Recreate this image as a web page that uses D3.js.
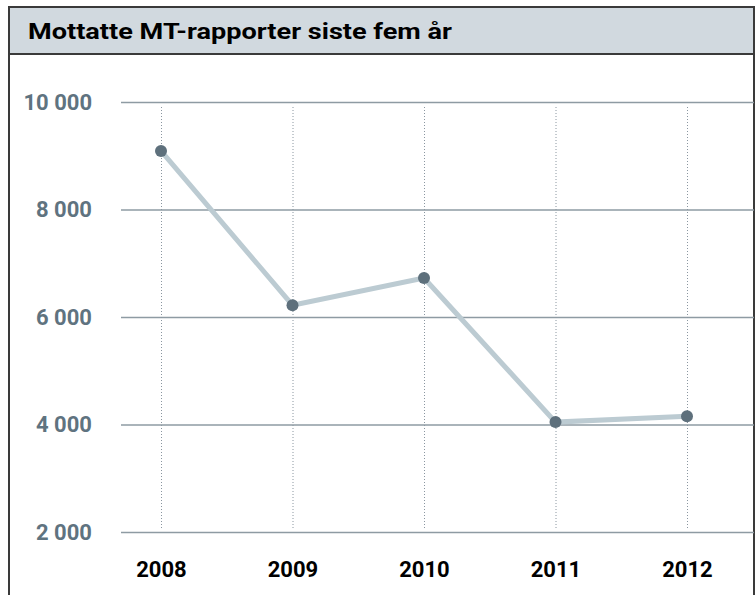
<!DOCTYPE html>
<html>
<head>
<meta charset="utf-8">
<script src="https://cdn.jsdelivr.net/npm/d3@7"></script>
<style>
  body { margin: 0; background: #fff; }
  #chart text { font-family: Roboto, "Open Sans", sans-serif; font-weight: bold; }
</style>
</head>
<body>
<div id="chart"></div>
<script>
const title = "Mottatte MT-rapporter siste fem år";
const years = ["2008", "2009", "2010", "2011", "2012"];
const reports = [9090, 6220, 6725, 4045, 4155];
const yTicks = [2000, 4000, 6000, 8000, 10000];

const width = 756;
const height = 595;

const svg = d3.select("#chart").append("svg")
    .attr("width", width)
    .attr("height", height);

// frame + header
const frameLeft = 9, frameRight = 754, frameTop = 7, headerBottom = 54;

svg.append("rect")
    .attr("x", frameLeft).attr("y", frameTop)
    .attr("width", frameRight - frameLeft)
    .attr("height", headerBottom - frameTop)
    .attr("fill", "#d1d9df");

svg.append("path")
    .attr("d", `M${frameLeft},${height + 5}V${frameTop}H${frameRight}V${height + 5}`)
    .attr("fill", "none")
    .attr("stroke", "#3a3a3a")
    .attr("stroke-width", 2);

svg.append("line")
    .attr("x1", frameLeft).attr("x2", frameRight)
    .attr("y1", headerBottom).attr("y2", headerBottom)
    .attr("stroke", "#3a3a3a")
    .attr("stroke-width", 2);

svg.append("text")
    .attr("x", 28)
    .attr("y", 39)
    .attr("textLength", 424)
    .attr("lengthAdjust", "spacingAndGlyphs")
    .style("font-size", "22px")
    .style("fill", "#000")
    .text(title);

// scales
const x = d3.scalePoint().domain(years).range([161, 687]);
const y = d3.scaleLinear().domain([2000, 10000]).range([532, 102]);

const nb = d3.formatLocale({ decimal: ",", thousands: " ", grouping: [3], currency: ["", ""] });

// y axis with gridlines
const yAxis = d3.axisLeft(y)
    .tickValues(yTicks)
    .tickFormat(nb.format(","))
    .tickSize(-(frameRight - 121))
    .tickPadding(29);

const yG = svg.append("g")
    .attr("transform", "translate(121,0)")
    .call(yAxis);
yG.select(".domain").remove();
yG.selectAll(".tick line")
    .attr("stroke", "#8e9ba3")
    .attr("stroke-width", 1.5);
yG.selectAll(".tick text")
    .style("font-size", "22px")
    .style("fill", "#5f7380");

// x axis with dotted verticals
const xAxis = d3.axisBottom(x)
    .tickSize(-(528 - 105))
    .tickPadding(33);

const xG = svg.append("g")
    .attr("transform", "translate(0,528)")
    .call(xAxis);
xG.select(".domain").remove();
xG.selectAll(".tick line")
    .attr("stroke", "#8a96a0")
    .attr("stroke-width", 1)
    .attr("stroke-dasharray", "1,2");
xG.selectAll(".tick text")
    .style("font-size", "22px")
    .style("fill", "#000");

// line + dots
const line = d3.line()
    .x((d, i) => x(years[i]))
    .y(d => y(d));

svg.append("path")
    .datum(reports)
    .attr("d", line)
    .attr("fill", "none")
    .attr("stroke", "#bccbd2")
    .attr("stroke-width", 5);

svg.selectAll(".dot")
    .data(reports)
    .enter()
    .append("circle")
    .attr("class", "dot")
    .attr("cx", (d, i) => x(years[i]))
    .attr("cy", d => y(d))
    .attr("r", 6)
    .attr("fill", "#5e707c");
</script>
</body>
</html>
